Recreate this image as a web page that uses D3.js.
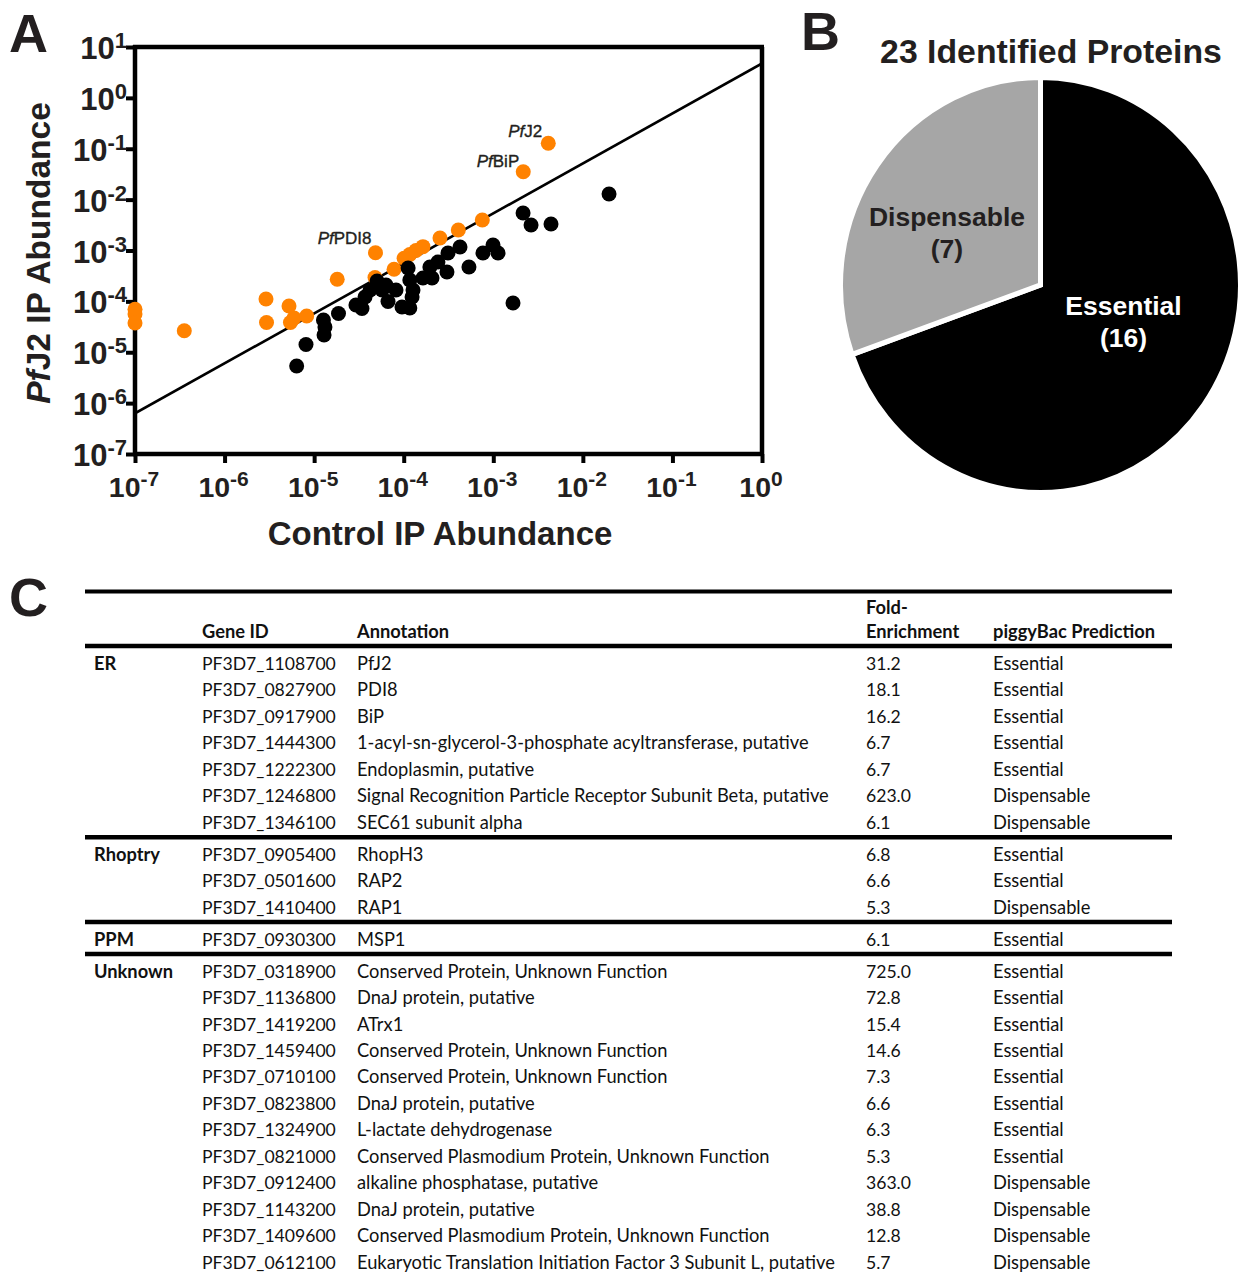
<!DOCTYPE html>
<html><head><meta charset="utf-8">
<script src="https://cdn.jsdelivr.net/npm/d3@7"></script>
<style>body{margin:0;background:#fff}svg{display:block}</style>
</head><body>
<svg id="fig" width="1249" height="1272"></svg>
<script>
// ---------- DATA ----------
const xTickValues = [1e-7, 1e-6, 1e-5, 1e-4, 1e-3, 1e-2, 1e-1, 1];
const yTickValues = [1e-7, 1e-6, 1e-5, 1e-4, 1e-3, 1e-2, 1e-1, 1, 10];

// enriched (orange) proteins: control IP abundance, PfJ2 IP abundance
const enrichedControl = [1.0e-7, 1.0e-7, 1.0e-7, 3.55e-7, 2.90e-6, 2.94e-6, 5.24e-6, 5.44e-6, 5.96e-6, 8.26e-6,
  1.81e-5, 4.84e-5, 4.78e-5, 7.80e-5, 1.01e-4, 1.17e-4, 1.37e-4, 1.64e-4, 2.54e-4, 4.07e-4, 7.54e-4, 2.16e-3, 4.11e-3];
const enrichedPfJ2 = [7.0e-5, 5.65e-5, 3.76e-5, 2.65e-5, 1.11e-4, 3.85e-5, 8.11e-5, 3.85e-5, 4.71e-5, 5.16e-5,
  2.73e-4, 9.05e-4, 2.94e-4, 4.27e-4, 7.03e-4, 8.34e-4, 1.0e-3, 1.19e-3, 1.76e-3, 2.53e-3, 3.98e-3, 3.54e-2, 0.128];

// other (black) proteins
const otherControl = [6.38e-6, 8.11e-6, 1.29e-5, 1.32e-5, 1.27e-5, 1.87e-5, 2.93e-5, 3.42e-5, 3.70e-5, 4.21e-5,
  5.04e-5, 5.73e-5, 6.34e-5, 6.68e-5, 8.20e-5, 9.57e-5, 1.17e-4, 1.12e-4, 1.17e-4, 1.27e-4,
  1.24e-4, 1.64e-4, 2.07e-4, 1.96e-4, 2.41e-4, 3.04e-4, 3.12e-4, 4.25e-4, 5.35e-4, 7.67e-4,
  9.93e-4, 1.13e-3, 2.15e-3, 2.64e-3, 4.41e-3, 1.66e-3, 1.96e-2];
const otherPfJ2 = [5.37e-6, 1.42e-5, 2.18e-5, 3.13e-5, 4.31e-5, 5.78e-5, 8.49e-5, 7.24e-5, 1.22e-4, 1.67e-4,
  2.51e-4, 1.67e-4, 2.10e-4, 9.95e-5, 1.67e-4, 7.75e-5, 7.41e-5, 4.53e-4, 2.63e-4, 1.67e-4,
  1.22e-4, 2.88e-4, 2.88e-4, 4.74e-4, 5.94e-4, 3.78e-4, 8.93e-4, 1.17e-3, 4.74e-4, 8.93e-4,
  1.28e-3, 8.93e-4, 5.46e-3, 3.17e-3, 3.32e-3, 9.29e-5, 1.29e-2];

const fitLineX = [1e-7, 1];
const fitLineY = [6.3e-7, 4.74];

const labelNames = ["J2", "BiP", "PDI8"];      // shown as Pf + name
const labelPointIndex = [22, 21, 11];          // index into enriched arrays

const pieCategories = ["Essential", "Dispensable"];
const pieCounts = [16, 7];
const pieTitle = "23 Identified Proteins";

const tableHeaders = ["Gene ID", "Annotation", "Fold-Enrichment", "piggyBac Prediction"];
const rowGroup = ["ER","ER","ER","ER","ER","ER","ER","Rhoptry","Rhoptry","Rhoptry","PPM",
  "Unknown","Unknown","Unknown","Unknown","Unknown","Unknown","Unknown","Unknown","Unknown","Unknown","Unknown","Unknown"];
const geneIds = ["PF3D7_1108700","PF3D7_0827900","PF3D7_0917900","PF3D7_1444300","PF3D7_1222300","PF3D7_1246800","PF3D7_1346100",
  "PF3D7_0905400","PF3D7_0501600","PF3D7_1410400","PF3D7_0930300",
  "PF3D7_0318900","PF3D7_1136800","PF3D7_1419200","PF3D7_1459400","PF3D7_0710100","PF3D7_0823800","PF3D7_1324900",
  "PF3D7_0821000","PF3D7_0912400","PF3D7_1143200","PF3D7_1409600","PF3D7_0612100"];
const annotations = ["PfJ2","PDI8","BiP","1-acyl-sn-glycerol-3-phosphate acyltransferase, putative","Endoplasmin, putative",
  "Signal Recognition Particle Receptor Subunit Beta, putative","SEC61 subunit alpha",
  "RhopH3","RAP2","RAP1","MSP1",
  "Conserved Protein, Unknown Function","DnaJ protein, putative","ATrx1","Conserved Protein, Unknown Function",
  "Conserved Protein, Unknown Function","DnaJ protein, putative","L-lactate dehydrogenase",
  "Conserved Plasmodium Protein, Unknown Function","alkaline phosphatase, putative","DnaJ protein, putative",
  "Conserved Plasmodium Protein, Unknown Function","Eukaryotic Translation Initiation Factor 3 Subunit L, putative"];
const foldEnrichment = ["31.2","18.1","16.2","6.7","6.7","623.0","6.1","6.8","6.6","5.3","6.1",
  "725.0","72.8","15.4","14.6","7.3","6.6","6.3","5.3","363.0","38.8","12.8","5.7"];
const predictions = ["Essential","Essential","Essential","Essential","Essential","Dispensable","Dispensable",
  "Essential","Essential","Dispensable","Essential",
  "Essential","Essential","Essential","Essential","Essential","Essential","Essential","Essential",
  "Dispensable","Dispensable","Dispensable","Dispensable"];

// ---------- DRAW ----------
const svg = d3.select("#fig");
const ARIAL = "'Liberation Sans', Arial, Helvetica, sans-serif";
const INK = "#231f20";
const ORANGE = "#ff8200";

svg.append("rect").attr("width", 1249).attr("height", 1272).attr("fill", "#fff");

// Panel letters
[["A", 9, 52], ["B", 801, 50], ["C", 9, 616]].forEach(([t, x, y]) => {
  svg.append("text").attr("x", x).attr("y", y).text(t)
    .attr("font-family", ARIAL).attr("font-weight", "bold").attr("font-size", 54).attr("fill", INK);
});

// ---- Panel A: scatter ----
const x = d3.scaleLog().domain([1e-7, 1]).range([135, 762]);
const y = d3.scaleLog().domain([1e-7, 10]).range([454, 47]);
const gA = svg.append("g");

svg.append("defs").append("clipPath").attr("id", "plotclip")
  .append("rect").attr("x", 135).attr("y", 47).attr("width", 627).attr("height", 407);

gA.append("line").attr("clip-path", "url(#plotclip)")
  .attr("x1", x(fitLineX[0])).attr("y1", y(fitLineY[0]))
  .attr("x2", x(fitLineX[1])).attr("y2", y(fitLineY[1]))
  .attr("stroke", "#000").attr("stroke-width", 2.6);

// frame (top and right)
gA.append("line").attr("x1", x(1e-7) - 2).attr("x2", x(1) + 2).attr("y1", y(10)).attr("y2", y(10))
  .attr("stroke", "#000").attr("stroke-width", 4.5);
gA.append("line").attr("x1", x(1)).attr("x2", x(1)).attr("y1", y(10)).attr("y2", y(1e-7))
  .attr("stroke", "#000").attr("stroke-width", 4.5);

function supLabel(sel, v, supSize) {
  const e = Math.round(Math.log10(v));
  sel.append("tspan").text("10");
  sel.append("tspan").attr("dy", -11).attr("font-size", supSize).text(String(e));
}

// x axis
const xAxis = d3.axisBottom(x).tickValues(xTickValues).tickSize(9).tickFormat("");
const gx = gA.append("g").attr("transform", `translate(0,${y(1e-7)})`).call(xAxis);
gx.select(".domain").attr("stroke", "#000").attr("stroke-width", 4.5).attr("d", `M${x(1e-7)-2},0H${x(1)+2}`);
gx.selectAll(".tick line").attr("stroke", "#000").attr("stroke-width", 4);
gA.selectAll(".xlab").data(xTickValues).enter().append("text")
  .attr("x", d => x(d) - 1).attr("y", 497).attr("text-anchor", "middle")
  .attr("font-family", ARIAL).attr("font-weight", "bold").attr("font-size", 28.5).attr("fill", INK)
  .each(function(d){ supLabel(d3.select(this), d, 21); });

// y axis
const yAxis = d3.axisLeft(y).tickValues(yTickValues).tickSize(9).tickFormat("");
const gy = gA.append("g").attr("transform", `translate(${x(1e-7)},0)`).call(yAxis);
gy.select(".domain").attr("stroke", "#000").attr("stroke-width", 4.5).attr("d", `M0,${y(10)-2}V${y(1e-7)+2}`);
gy.selectAll(".tick line").attr("stroke", "#000").attr("stroke-width", 4);
gA.selectAll(".ylab").data(yTickValues).enter().append("text")
  .attr("x", 127).attr("y", d => y(d) + 12).attr("text-anchor", "end")
  .attr("font-family", ARIAL).attr("font-weight", "bold").attr("font-size", 31).attr("fill", INK)
  .each(function(d){ supLabel(d3.select(this), d, 22); });

// axis titles
gA.append("text").attr("x", 440).attr("y", 545).attr("text-anchor", "middle")
  .attr("font-family", ARIAL).attr("font-weight", "bold").attr("font-size", 33).attr("fill", INK)
  .text("Control IP Abundance");
const yt = gA.append("text").attr("transform", "translate(50,253) rotate(-90)").attr("text-anchor", "middle")
  .attr("font-family", ARIAL).attr("font-weight", "bold").attr("font-size", 33.5).attr("fill", INK);
yt.append("tspan").attr("font-style", "italic").text("Pf");
yt.append("tspan").text("J2 IP Abundance");

// points
const enriched = enrichedControl.map((c, i) => ({c, p: enrichedPfJ2[i]}));
const others = otherControl.map((c, i) => ({c, p: otherPfJ2[i]}));
gA.selectAll(".enr").data(enriched).enter().append("circle")
  .attr("cx", d => x(d.c)).attr("cy", d => y(d.p)).attr("r", 7.5).attr("fill", ORANGE);
gA.selectAll(".oth").data(others).enter().append("circle")
  .attr("cx", d => x(d.c)).attr("cy", d => y(d.p)).attr("r", 7.5).attr("fill", "#000");

// point labels
const labelOffsets = [[-6, -6], [-4, -5], [-4, -9]];
labelNames.forEach((name, k) => {
  const d = enriched[labelPointIndex[k]];
  const t = gA.append("text").attr("x", x(d.c) + labelOffsets[k][0]).attr("y", y(d.p) + labelOffsets[k][1])
    .attr("text-anchor", "end").attr("font-family", ARIAL).attr("font-size", 17).attr("fill", INK)
    .attr("stroke", INK).attr("stroke-width", 0.35);
  t.append("tspan").attr("font-style", "italic").text("Pf");
  t.append("tspan").text(name);
});

// ---- Panel B: pie ----
const gB = svg.append("g").attr("transform", "translate(1040.5,285) scale(1,1.038)");
const pie = d3.pie().sort(null).value(d => d.v);
const arcs = pie(pieCategories.map((k, i) => ({k, v: pieCounts[i]})));
const arc = d3.arc().innerRadius(0).outerRadius(200);
const pieColors = ["#000000", "#a6a6a6"];
gB.selectAll("path").data(arcs).enter().append("path")
  .attr("d", arc).attr("fill", (d, i) => pieColors[i]).attr("stroke", "#fff").attr("stroke-width", 5)
  .attr("stroke-linejoin", "miter");
svg.append("text").attr("x", 1051).attr("y", 63).attr("text-anchor", "middle")
  .attr("font-family", ARIAL).attr("font-weight", "bold").attr("font-size", 33.8).attr("fill", INK).text(pieTitle);
const pieLabelPos = [[1123.5, 315, "#fff"], [947, 226, INK]];
arcs.forEach((a, i) => {
  const [lx, ly, col] = pieLabelPos[i];
  const t = svg.append("text").attr("text-anchor", "middle").attr("font-family", ARIAL)
    .attr("font-weight", "bold").attr("font-size", 26.5).attr("fill", col);
  t.append("tspan").attr("x", lx).attr("y", ly).text(a.data.k);
  t.append("tspan").attr("x", lx).attr("y", ly + 32).text(`(${a.data.v})`);
});

// ---- Panel C: table ----
const TF = "Lato, 'Open Sans', sans-serif";
const gC = svg.append("g").attr("font-family", TF).attr("font-size", 18.3).attr("fill", "#111");
const colX = {group: 94, gene: 202, ann: 357, fold: 866, pred: 993};
const L0 = 85, L1 = 1172;
function hline(yy, w) {
  gC.append("line").attr("x1", L0).attr("x2", L1).attr("y1", yy).attr("y2", yy)
    .attr("stroke", "#000").attr("stroke-width", w);
}
hline(591.5, 4);
const hdr = gC.append("g").attr("font-weight", "bold");
hdr.append("text").attr("x", colX.gene).attr("y", 638).text(tableHeaders[0]);
hdr.append("text").attr("x", colX.ann).attr("y", 638).text(tableHeaders[1]);
const fe = tableHeaders[2].split("-");
hdr.append("text").attr("x", colX.fold).attr("y", 614).text(fe[0] + "-");
hdr.append("text").attr("x", colX.fold).attr("y", 638).text(fe[1]);
hdr.append("text").attr("x", colX.pred).attr("y", 638).text(tableHeaders[3]);
hline(646, 4.5);

const rowH = 26.45, groupGap = 32;
let cy = 664;
geneIds.forEach((g, i) => {
  if (i > 0) {
    if (rowGroup[i] !== rowGroup[i - 1]) {
      hline(cy + 14.5, 4.5);
      cy += groupGap;
    } else cy += rowH;
  }
  const base = cy + 6;
  if (i === 0 || rowGroup[i] !== rowGroup[i - 1]) {
    gC.append("text").attr("x", colX.group).attr("y", base).attr("font-weight", "bold").text(rowGroup[i]);
  }
  gC.append("text").attr("x", colX.gene).attr("y", base).attr("font-size", 17.6).text(g);
  gC.append("text").attr("x", colX.ann).attr("y", base).text(annotations[i]);
  gC.append("text").attr("x", colX.fold).attr("y", base).attr("font-size", 17.6).text(foldEnrichment[i]);
  gC.append("text").attr("x", colX.pred).attr("y", base).text(predictions[i]);
});
</script>
</body></html>
